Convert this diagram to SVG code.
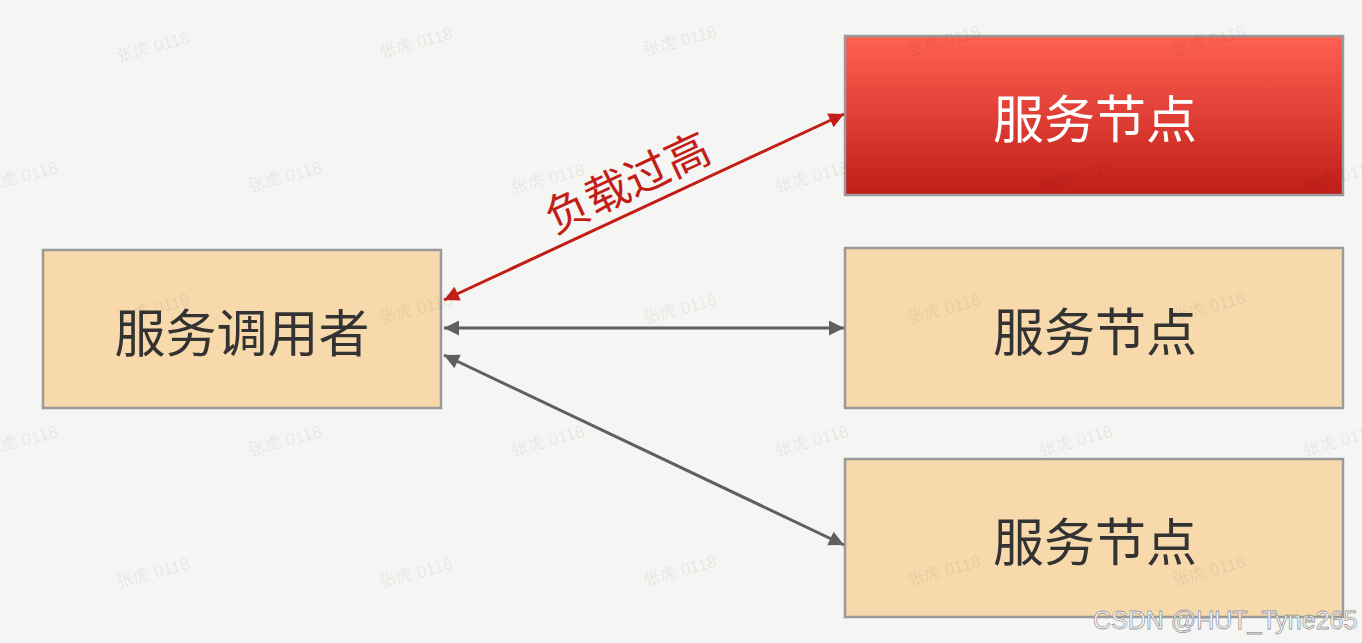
<svg xmlns="http://www.w3.org/2000/svg" width="1362" height="643" viewBox="0 0 1362 643">
  <style>
    .node { fill: #f7d9ab; stroke: #9a9a9a; stroke-width: 2.5; }
    .hot { fill: url(#redGrad); stroke: #9a9a9a; stroke-width: 2.5; }
    .label { font-family: "Noto Sans CJK SC", "Noto Sans", sans-serif; font-size: 51px; fill: #333333; text-anchor: middle; dominant-baseline: central; }
    .label.white { fill: #ffffff; }
    .conn { stroke: #5f5f5f; stroke-width: 3; fill: none; marker-start: url(#ahGrayStart); marker-end: url(#ahGray); }
    .conn.red { stroke: #c21d16; marker-start: url(#ahRedStart); marker-end: url(#ahRed); }
    .edgeLabel { font-family: "Noto Sans CJK SC", "Noto Sans", sans-serif; font-size: 44px; fill: #c21d16; text-anchor: middle; dominant-baseline: central; }
    .wm { font-family: "Liberation Sans", "Noto Sans CJK SC", sans-serif; font-size: 17px; fill: #000000; fill-opacity: 0.07; }
    .csdn { font-family: "Liberation Sans", "Noto Sans", sans-serif; font-size: 25px; fill: #ffffff; stroke: #9a9a9a; stroke-width: 0.8; }
  </style>
  <defs>
    <linearGradient id="redGrad" x1="0" y1="0" x2="0" y2="1">
      <stop offset="0" stop-color="#ff6152"/>
      <stop offset="1" stop-color="#bf1d17"/>
    </linearGradient>
    <marker id="ahGray" viewBox="0 0 10 10" refX="10" refY="5" markerWidth="6" markerHeight="5" orient="auto" markerUnits="strokeWidth">
      <path d="M0,0 L10,5 L0,10 z" fill="#5f5f5f"/>
    </marker>
    <marker id="ahGrayStart" viewBox="0 0 10 10" refX="0" refY="5" markerWidth="6" markerHeight="5" orient="auto" markerUnits="strokeWidth">
      <path d="M10,0 L0,5 L10,10 z" fill="#5f5f5f"/>
    </marker>
    <marker id="ahRed" viewBox="0 0 10 10" refX="10" refY="5" markerWidth="6" markerHeight="5" orient="auto" markerUnits="strokeWidth">
      <path d="M0,0 L10,5 L0,10 z" fill="#c21d16"/>
    </marker>
    <marker id="ahRedStart" viewBox="0 0 10 10" refX="0" refY="5" markerWidth="6" markerHeight="5" orient="auto" markerUnits="strokeWidth">
      <path d="M10,0 L0,5 L10,10 z" fill="#c21d16"/>
    </marker>
  </defs>

  <rect x="0" y="0" width="1362" height="643" fill="#f5f5f3"/>

  <g id="caller">
    <rect class="node" x="43" y="250" width="398" height="158"/>
    <text class="label" x="242" y="330">服务调用者</text>
  </g>
  <g id="node-hot">
    <rect class="hot" x="845" y="36" width="498" height="159"/>
    <text class="label white" x="1095" y="116">服务节点</text>
  </g>
  <g id="node-2">
    <rect class="node" x="845" y="248" width="498" height="160"/>
    <text class="label" x="1095" y="329">服务节点</text>
  </g>
  <g id="node-3">
    <rect class="node" x="845" y="459" width="498" height="158"/>
    <text class="label" x="1095" y="539">服务节点</text>
  </g>

  <g id="connectors">
    <line class="conn red" x1="444" y1="300" x2="844" y2="114"/>
    <line class="conn" x1="444" y1="328" x2="844" y2="328"/>
    <line class="conn" x1="444" y1="355" x2="844" y2="545"/>
    <text class="edgeLabel" transform="translate(626,180) rotate(-25)">负载过高</text>
  </g>

  <g id="watermarks">
    <text class="wm" transform="translate(118,62) rotate(-15)">张虎 0118</text>
    <text class="wm" transform="translate(381,58) rotate(-15)">张虎 0118</text>
    <text class="wm" transform="translate(645,56) rotate(-15)">张虎 0118</text>
    <text class="wm" transform="translate(909,56) rotate(-15)">张虎 0118</text>
    <text class="wm" transform="translate(1174,56) rotate(-15)">张虎 0118</text>
    <text class="wm" transform="translate(-14,192) rotate(-15)">张虎 0118</text>
    <text class="wm" transform="translate(250,192) rotate(-15)">张虎 0118</text>
    <text class="wm" transform="translate(513,194) rotate(-15)">张虎 0118</text>
    <text class="wm" transform="translate(777,192) rotate(-15)">张虎 0118</text>
    <text class="wm" transform="translate(1041,192) rotate(-15)">张虎 0118</text>
    <text class="wm" transform="translate(1305,192) rotate(-15)">张虎 0118</text>
    <text class="wm" transform="translate(118,324) rotate(-15)">张虎 0118</text>
    <text class="wm" transform="translate(381,324) rotate(-15)">张虎 0118</text>
    <text class="wm" transform="translate(645,324) rotate(-15)">张虎 0118</text>
    <text class="wm" transform="translate(909,324) rotate(-15)">张虎 0118</text>
    <text class="wm" transform="translate(1174,322) rotate(-15)">张虎 0118</text>
    <text class="wm" transform="translate(-14,456) rotate(-15)">张虎 0118</text>
    <text class="wm" transform="translate(250,456) rotate(-15)">张虎 0118</text>
    <text class="wm" transform="translate(513,456) rotate(-15)">张虎 0118</text>
    <text class="wm" transform="translate(777,456) rotate(-15)">张虎 0118</text>
    <text class="wm" transform="translate(1041,456) rotate(-15)">张虎 0118</text>
    <text class="wm" transform="translate(1305,456) rotate(-15)">张虎 0118</text>
    <text class="wm" transform="translate(118,588) rotate(-15)">张虎 0118</text>
    <text class="wm" transform="translate(381,588) rotate(-15)">张虎 0118</text>
    <text class="wm" transform="translate(645,586) rotate(-15)">张虎 0118</text>
    <text class="wm" transform="translate(909,586) rotate(-15)">张虎 0118</text>
    <text class="wm" transform="translate(1174,586) rotate(-15)">张虎 0118</text>
    <text class="csdn" x="1093" y="629">CSDN @HUT_Tyne265</text>
  </g>
</svg>
